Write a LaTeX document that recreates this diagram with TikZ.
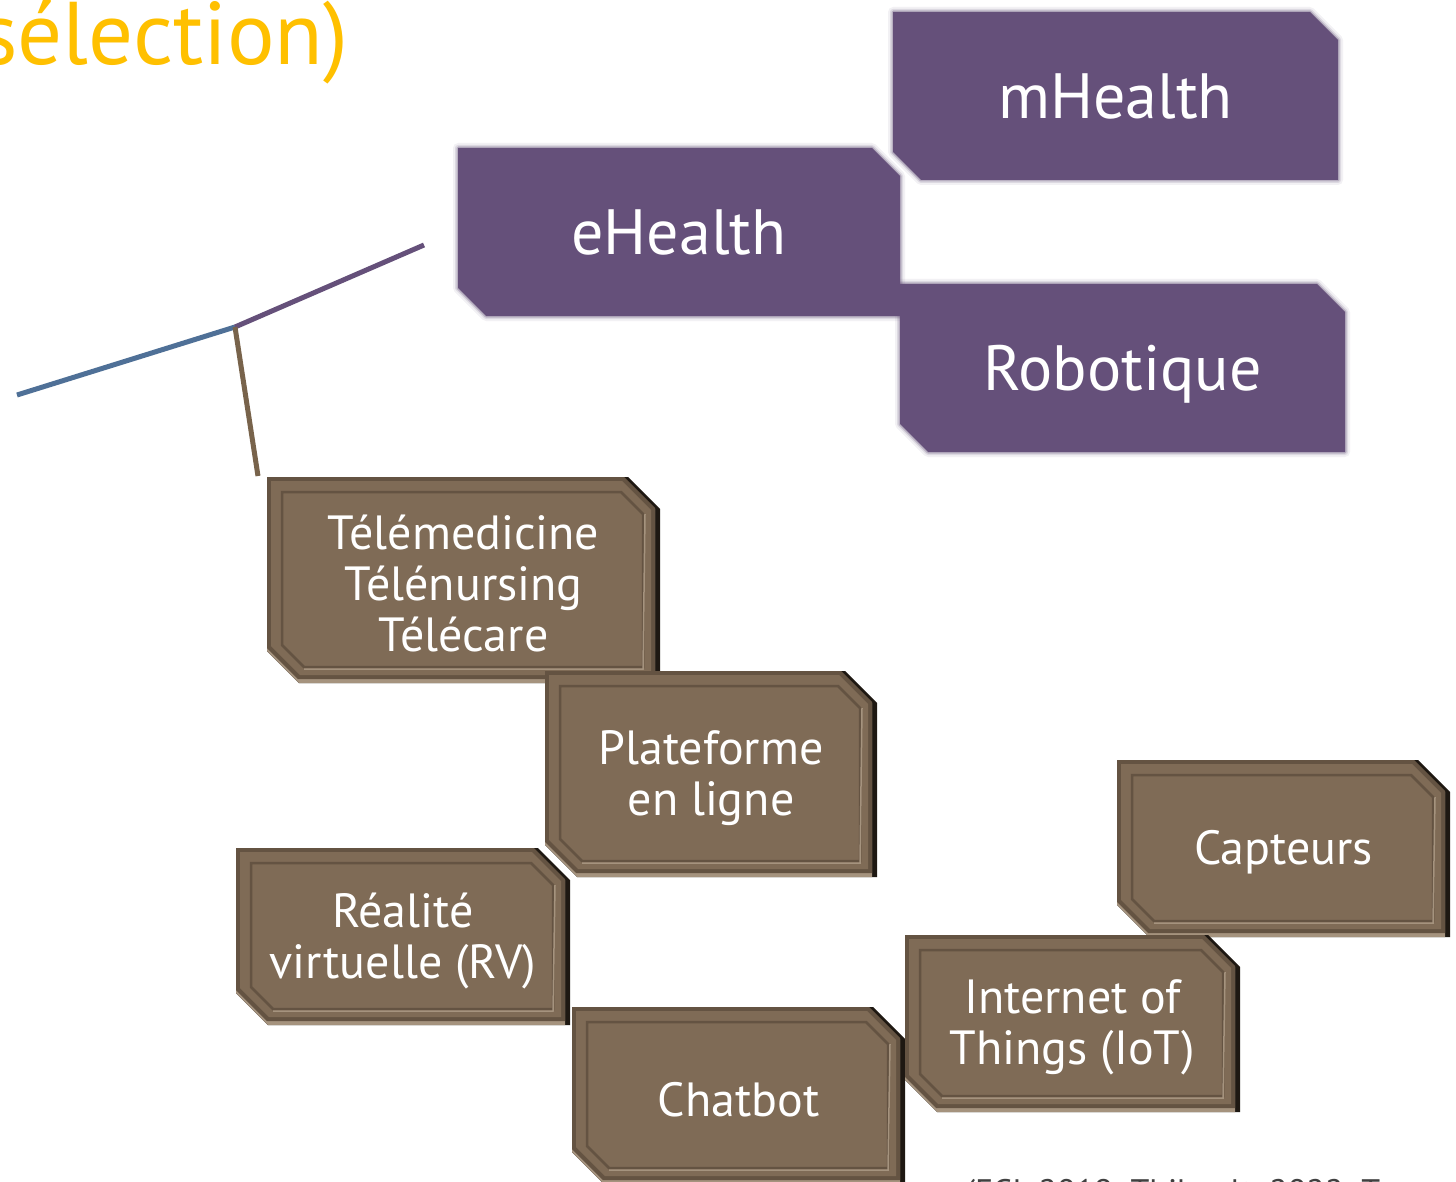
\documentclass[tikz,border=0pt]{standalone}
\usepackage{fontspec}
\setmainfont{PT Sans}
\definecolor{purp}{RGB}{101,80,122}
\definecolor{brn}{RGB}{127,107,86}
\definecolor{brnrim}{RGB}{100,83,66}
\definecolor{brnlight}{RGB}{165,147,126}
\definecolor{brndark}{RGB}{30,24,18}
\definecolor{lblue}{RGB}{79,112,151}
\definecolor{lbrown}{RGB}{120,99,75}
\definecolor{gold}{RGB}{255,192,0}
\newcommand\chp[5]{(#1,#2) -- ({#3-#5},#2) -- (#3,{#2+#5}) -- (#3,#4) -- ({#1+#5},#4) -- (#1,{#4-#5}) -- cycle}
\tikzset{
  btext/.style={text=white, align=center, font=\fontsize{48}{51}\selectfont, yshift=-4pt},
  ptext/.style={text=white, align=center, font=\fontsize{64}{70}\selectfont},
  link/.style={line width=5pt},
}
% brown bevel box: name, x1, y1, x2, y2, text
\newcommand\bbox[6]{%
  \fill[brndark] \chp{#2}{#3}{#4}{#5}{32};
  \fill[brnlight] \chp{#2}{#3}{#4-5}{#5}{32};
  \fill[brnrim] \chp{#2}{#3}{#4-5}{#5-4}{31};
  \fill[brn] \chp{#2+4}{#3+4}{#4-9}{#5-8}{29};
  \draw[brnrim, line width=2.5pt] \chp{#2+15}{#3+15}{#4-17}{#5-16}{22};
  \draw[brnlight, line width=1.5pt] ({#2+15+22},{#5-14}) -- ({#4-17},{#5-14}) -- ({#4-15},{#3+37});
  \node[btext] (#1) at ({(#2+#4)/2},{(#3+#5)/2}) {#6};
}
% purple soft box
\newcommand\pbox[7][]{%
  \draw[purp, line width=10pt, opacity=.08, line join=round] \chp{#3}{#4}{#5}{#6}{28};
  \draw[purp, line width=6pt, opacity=.15, line join=round] \chp{#3}{#4}{#5}{#6}{28};
  \draw[purp, line width=3pt, opacity=.3, line join=round] \chp{#3}{#4}{#5}{#6}{28};
  \fill[purp] \chp{#3}{#4}{#5}{#6}{28};
  \node[ptext, #1] (#2) at ({(#3+#5)/2},{(#4+#6)/2}) {#7};
}
\begin{document}
\begin{tikzpicture}[x=1pt, y=-1pt]
\useasboundingbox (0,0) rectangle (1456,1182);
\clip (0,0) rectangle (1456,1182);
\fill[white] (0,0) rectangle (1456,1182);

\node[text=gold, anchor=base east, font=\fontsize{89}{92}\selectfont] (title) at (352,65) {sélection)};

\pbox{mh}{893}{12}{1338}{180}{mHealth}
\pbox{eh}{458}{148}{900}{316}{eHealth}
\pbox[yshift=-6pt]{rob}{900}{284}{1345}{452}{Robotique}

\coordinate (j) at (235,327);
\coordinate (blueend) at (17,395);
\coordinate (purpend) at (424,245);
\coordinate (brnend) at (258,476);
\draw[link, lblue] (j) -- (blueend);
\draw[link, purp] (j) -- (purpend);
\draw[link, lbrown] (j) -- (brnend);

\bbox{tele}{267}{477}{660}{683}{Télémedicine\\Télénursing\\Télécare}
\bbox{plat}{545}{671}{877}{877}{Plateforme\\en ligne}
\bbox{rv}{236}{848}{570}{1025}{Réalité\\virtuelle (RV)}
\bbox{chat}{572}{1007}{905}{1184}{Chatbot}
\bbox{capt}{1117}{760}{1450}{937}{Capteurs}
\bbox{iot}{905}{935}{1240}{1112}{Internet of\\Things (IoT)}

\node[anchor=base west, text=black!75, font=\fontsize{34}{36}\selectfont] (cite) at (962,1203) {(FCI, 2019; Thibault, 2022; T};
\end{tikzpicture}
\end{document}
